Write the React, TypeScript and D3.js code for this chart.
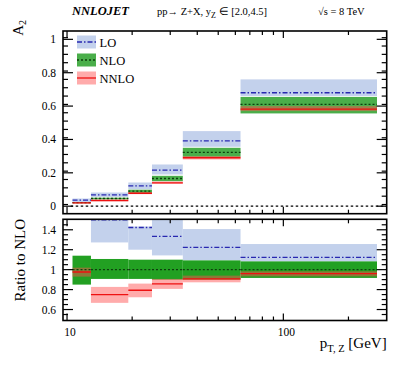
import React from "react";
import * as d3 from "d3";

const binEdges = [10.6, 12.9, 19.2, 24.7, 34.3, 63.4, 271];

const loCentral = [0.036, 0.068, 0.122, 0.216, 0.392, 0.68];
const loLow = [0.022, 0.056, 0.102, 0.19, 0.356, 0.66];
const loHigh = [0.046, 0.082, 0.142, 0.25, 0.45, 0.76];

const nloCentral = [0.021, 0.046, 0.09, 0.166, 0.322, 0.61];
const nloLow = [0.018, 0.041, 0.08, 0.15, 0.296, 0.556];
const nloHigh = [0.024, 0.051, 0.099, 0.182, 0.35, 0.655];

const nnloCentral = [0.02, 0.034, 0.078, 0.14, 0.29, 0.582];
const nnloLow = [0.017, 0.03, 0.072, 0.135, 0.28, 0.57];
const nnloHigh = [0.023, 0.038, 0.083, 0.148, 0.3, 0.6];

const loRatio: (number | null)[] = [null, 1.5, 1.423, 1.333, 1.223, 1.123];
const loRatioLow: (number | null)[] = [null, 1.273, 1.2, 1.143, 1.093, 1.083];
const loRatioHigh: (number | null)[] = [null, 1.7, 1.433, 1.6, 1.407, 1.257];

const nloRatio = [1, 1, 1, 1, 1, 1];
const nloRatioLow = [0.85, 0.907, 0.907, 0.9, 0.9, 0.917];
const nloRatioHigh = [1.14, 1.107, 1.1, 1.1, 1.093, 1.083];

const nnloRatio = [0.977, 0.75, 0.793, 0.857, 0.907, 0.96];
const nnloRatioLow = [0.93, 0.667, 0.723, 0.807, 0.873, 0.933];
const nnloRatioHigh = [1.02, 0.827, 0.86, 0.907, 0.94, 0.983];

const upperTicks = [0, 0.2, 0.4, 0.6, 0.8, 1];
const upperTickLabels = ["0", "0.2", "0.4", "0.6", "0.8", "1"];
const lowerTicks = [0.6, 0.8, 1, 1.2, 1.4];
const lowerTickLabels = ["0.6", "0.8", "1", "1.2", "1.4"];
const xMajorTicks = [10, 100];
const xMajorLabels = ["10", "100"];
const xMinorTicks = [20, 30, 40, 50, 60, 70, 80, 90, 200];

const legendLabels = ["LO", "NLO", "NNLO"];

const FONT = "'Liberation Serif', 'Times New Roman', Times, serif";

const COL = {
  loBand: "#c3d1ec",
  loLine: "#2828b0",
  nloBandUp: "#4aae4a",
  nloBandLow: "#22a022",
  nloLine: "#0d3d0d",
  nnloBand: "rgba(255,80,80,0.48)",
  nnloLine: "#ee1111",
};

const L = 63;
const R = 386.7;

export default function App() {
  const x = d3.scaleLog().domain([9.58, 300.5]).range([L, R]);
  const yU = d3.scaleLinear().domain([-0.045, 1.05]).range([213.7, 31]);
  const yL = d3.scaleLinear().domain([0.49, 1.505]).range([320.5, 219.3]);

  const bins = d3.range(binEdges.length - 1);

  const upperMinor = d3.range(-0.04, 1.05, 0.05).map((v) => Math.round(v * 100) / 100).filter((v) => v >= -0.04 && v <= 1.05);
  const lowerMinor = d3.range(0.5, 1.51, 0.05).map((v) => Math.round(v * 100) / 100);

  const panel = (
    y: d3.ScaleLinear<number, number>,
    lo: { c: (number | null)[]; l: (number | null)[]; h: (number | null)[] },
    nlo: { c: number[]; l: number[]; h: number[] },
    nnlo: { c: number[]; l: number[]; h: number[] },
    nloFill: string,
    clipId: string
  ) => (
    <g clipPath={`url(#${clipId})`}>
      {bins.map((i) =>
        lo.c[i] == null ? null : (
          <rect
            key={"lob" + i}
            x={x(binEdges[i])}
            width={x(binEdges[i + 1]) - x(binEdges[i])}
            y={y(lo.h[i] as number)}
            height={y(lo.l[i] as number) - y(lo.h[i] as number)}
            fill={COL.loBand}
          />
        )
      )}
      {bins.map((i) => (
        <rect
          key={"nlob" + i}
          x={x(binEdges[i])}
          width={x(binEdges[i + 1]) - x(binEdges[i])}
          y={y(nlo.h[i])}
          height={y(nlo.l[i]) - y(nlo.h[i])}
          fill={nloFill}
        />
      ))}
      {bins.map((i) => (
        <rect
          key={"nnlob" + i}
          x={x(binEdges[i])}
          width={x(binEdges[i + 1]) - x(binEdges[i])}
          y={y(nnlo.h[i])}
          height={y(nnlo.l[i]) - y(nnlo.h[i])}
          fill={COL.nnloBand}
        />
      ))}
      {bins.map((i) =>
        lo.c[i] == null ? null : (
          <line
            key={"lol" + i}
            x1={x(binEdges[i])}
            x2={x(binEdges[i + 1])}
            y1={y(lo.c[i] as number)}
            y2={y(lo.c[i] as number)}
            stroke={COL.loLine}
            strokeWidth={1.3}
            strokeDasharray="5,2,1.5,2"
          />
        )
      )}
      {bins.map((i) => (
        <line
          key={"nlol" + i}
          x1={x(binEdges[i])}
          x2={x(binEdges[i + 1])}
          y1={y(nlo.c[i])}
          y2={y(nlo.c[i])}
          stroke={COL.nloLine}
          strokeWidth={1.3}
          strokeDasharray="2,2"
        />
      ))}
      {bins.map((i) => (
        <line
          key={"nnlol" + i}
          x1={x(binEdges[i])}
          x2={x(binEdges[i + 1])}
          y1={y(nnlo.c[i])}
          y2={y(nnlo.c[i])}
          stroke={COL.nnloLine}
          strokeWidth={1.4}
        />
      ))}
    </g>
  );

  const frame = (y: d3.ScaleLinear<number, number>, major: number[], minor: number[], key: string) => {
    const [yb, yt] = y.range();
    return (
      <g key={key} stroke="#000">
        {major.map((v) => (
          <g key={"M" + v}>
            <line x1={L} x2={L + 10} y1={y(v)} y2={y(v)} strokeWidth={1.2} />
            <line x1={R - 10} x2={R} y1={y(v)} y2={y(v)} strokeWidth={1.2} />
          </g>
        ))}
        {minor
          .filter((v) => y(v) > yt + 1 && y(v) < yb - 1 && !major.some((m) => Math.abs(m - v) < 1e-6))
          .map((v) => (
            <g key={"m" + v}>
              <line x1={L} x2={L + 5} y1={y(v)} y2={y(v)} strokeWidth={1.2} />
              <line x1={R - 5} x2={R} y1={y(v)} y2={y(v)} strokeWidth={1.2} />
            </g>
          ))}
        {xMajorTicks.map((v) => (
          <g key={"xM" + v}>
            <line x1={x(v)} x2={x(v)} y1={yb} y2={yb - 7} strokeWidth={1.2} />
            <line x1={x(v)} x2={x(v)} y1={yt} y2={yt + 7} strokeWidth={1.2} />
          </g>
        ))}
        {xMinorTicks.map((v) => (
          <g key={"xm" + v}>
            <line x1={x(v)} x2={x(v)} y1={yb} y2={yb - 4} strokeWidth={1.2} />
            <line x1={x(v)} x2={x(v)} y1={yt} y2={yt + 4} strokeWidth={1.2} />
          </g>
        ))}
        <rect x={L} y={yt} width={R - L} height={yb - yt} fill="none" strokeWidth={1.6} />
      </g>
    );
  };

  const legendY = [42, 60, 78];

  return (
    <svg
      width={407}
      height={365}
      style={{ position: "absolute", left: 0, top: 0, background: "#fff", fontFamily: FONT }}
    >
      <defs>
        <clipPath id="clipU">
          <rect x={L} y={31} width={R - L} height={213.7 - 31} />
        </clipPath>
        <clipPath id="clipL">
          <rect x={L} y={219.3} width={R - L} height={320.5 - 219.3} />
        </clipPath>
      </defs>

      {/* header */}
      <text x={72} y={15} fontSize={12.5} fontWeight="bold" fontStyle="italic">NNLOJET</text>
      <text x={157} y={15} fontSize={10.5}>
        pp→ Z+X,  y
        <tspan fontSize={8} dy={3}>Z</tspan>
        <tspan dy={-3}> ∈ [2.0,4.5]</tspan>
      </text>
      <text x={318} y={15} fontSize={10.5}>√s = 8 TeV</text>

      {/* upper panel */}
      <line x1={x(10.4)} x2={R} y1={yU(0)} y2={yU(0)} stroke="#000" strokeWidth={1.2} strokeDasharray="2.5,2.5" />
      {panel(
        yU,
        { c: loCentral, l: loLow, h: loHigh },
        { c: nloCentral, l: nloLow, h: nloHigh },
        { c: nnloCentral, l: nnloLow, h: nnloHigh },
        COL.nloBandUp,
        "clipU"
      )}
      {frame(yU, upperTicks, upperMinor, "fu")}
      {upperTicks.map((v, i) => (
        <text key={"ul" + i} x={56} y={yU(v) + 4} fontSize={11.5} textAnchor="end">{upperTickLabels[i]}</text>
      ))}
      <text transform={`translate(23,20) rotate(-90)`} fontSize={15} textAnchor="end">
        A<tspan fontSize={10} dy={3}>2</tspan>
      </text>

      {/* legend */}
      {legendLabels.map((lab, i) => {
        const cy = legendY[i];
        const fill = i === 0 ? COL.loBand : i === 1 ? COL.nloBandUp : COL.nnloBand;
        const stroke = i === 0 ? COL.loLine : i === 1 ? COL.nloLine : COL.nnloLine;
        const dash = i === 0 ? "5,2,1.5,2" : i === 1 ? "2,2" : undefined;
        return (
          <g key={lab}>
            <rect x={77} y={cy - 6.5} width={19} height={13} fill={fill} />
            <line x1={77} x2={96} y1={cy} y2={cy} stroke={stroke} strokeWidth={1.3} strokeDasharray={dash} />
            <text x={99.5} y={cy + 4.5} fontSize={12.5}>{lab}</text>
          </g>
        );
      })}

      {/* lower panel */}
      {panel(
        yL,
        { c: loRatio, l: loRatioLow, h: loRatioHigh },
        { c: nloRatio, l: nloRatioLow, h: nloRatioHigh },
        { c: nnloRatio, l: nnloRatioLow, h: nnloRatioHigh },
        COL.nloBandLow,
        "clipL"
      )}
      {frame(yL, lowerTicks, lowerMinor, "fl")}
      {lowerTicks.map((v, i) => (
        <text key={"ll" + i} x={56} y={yL(v) + 4} fontSize={11.5} textAnchor="end">{lowerTickLabels[i]}</text>
      ))}
      <text transform={`translate(25,219) rotate(-90)`} fontSize={15} textAnchor="end">Ratio to NLO</text>

      {xMajorTicks.map((v, i) => (
        <text key={"xl" + i} x={x(v) + 3} y={336} fontSize={11.5} textAnchor="middle">{xMajorLabels[i]}</text>
      ))}
      <text x={R} y={348} fontSize={15} textAnchor="end">
        p<tspan fontSize={10.5} dy={4}>T, Z</tspan>
        <tspan dy={-4}> [GeV]</tspan>
      </text>
    </svg>
  );
}
